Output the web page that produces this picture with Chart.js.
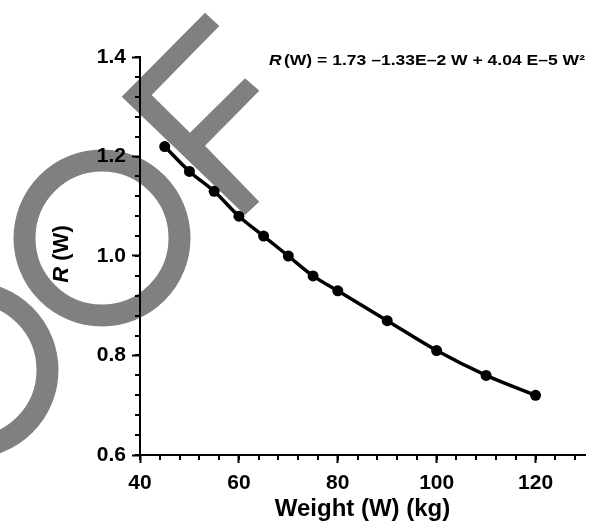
<!DOCTYPE html>
<html>
<head>
<meta charset="utf-8">
<script src="https://cdn.jsdelivr.net/npm/chart.js@4/dist/chart.umd.min.js"></script>
<style>
body { margin: 0; background: #fff; }
</style>
</head>
<body>
<canvas id="chart" width="593" height="524"></canvas>
<script>
// values
let weights = [45, 50, 55, 60, 65, 70, 75, 80, 90, 100, 110, 120];
let ratios = [1.22, 1.17, 1.13, 1.08, 1.04, 1.00, 0.96, 0.93, 0.87, 0.81, 0.76, 0.72];
let x_ticks = [40, 60, 80, 100, 120];
let y_ticks = [0.6, 0.8, 1.0, 1.2, 1.4];
let x_title = 'Weight (W) (kg)';
let y_title_var = 'R';
let y_title_rest = ' (W)';
let eq_var = 'R';
let eq_rest = '(W) = 1.73 \u20131.33E\u20132 W + 4.04 E\u20135 W\u00b2';

let font_family = '"Liberation Sans", Arial, Helvetica, sans-serif';
Chart.defaults.font.family = font_family;
Chart.defaults.font.weight = 'bold';
Chart.defaults.color = '#000';

// gray "PROOF" stamp behind the plot
let stamp_plugin = {
    id: 'stamp',
    beforeDraw: function(chart) {
        let ctx = chart.ctx;
        ctx.save();
        ctx.fillStyle = '#808080';
        ctx.strokeStyle = '#808080';
        ctx.lineWidth = 22;
        ctx.beginPath();
        ctx.arc(102, 238, 77.5, 0, Math.PI * 2);
        ctx.stroke();
        ctx.beginPath();
        ctx.arc(-30, 370, 77.5, 0, Math.PI * 2);
        ctx.stroke();
        let f_shape = [[121.7, 96.7], [205, 12.7], [219.3, 26], [151.7, 95], [190, 132.7],
            [245, 78.3], [259.3, 90.7], [205, 145.7], [259.3, 201.7], [245, 215]];
        ctx.beginPath();
        f_shape.forEach(function(p, i) {
            if (i == 0) ctx.moveTo(p[0], p[1]); else ctx.lineTo(p[0], p[1]);
        });
        ctx.closePath();
        ctx.fill();
        ctx.restore();
    }
};

// short minor ticks, y title and the fitted equation
let extras_plugin = {
    id: 'extras',
    afterDraw: function(chart) {
        let ctx = chart.ctx;
        let xs = chart.scales.x;
        let ys = chart.scales.y;
        ctx.save();
        ctx.strokeStyle = '#000';
        ctx.lineWidth = 2;
        ctx.beginPath();
        for (let v = 40; v < 130; v += 4) {
            let px = Math.round(xs.getPixelForValue(v));
            ctx.moveTo(px, ys.bottom);
            ctx.lineTo(px, ys.bottom + 5);
        }
        for (let i = 0; i <= 20; i++) {
            let py = Math.round(ys.getPixelForValue(0.6 + i * 0.04));
            ctx.moveTo(xs.left, py);
            ctx.lineTo(xs.left - 5, py);
        }
        ctx.stroke();

        // y title, rotated
        ctx.fillStyle = '#000';
        ctx.textBaseline = 'middle';
        ctx.textAlign = 'left';
        let var_font = 'italic bold 22px ' + font_family;
        let rest_font = 'bold 22px ' + font_family;
        ctx.font = var_font;
        let w1 = ctx.measureText(y_title_var).width;
        ctx.font = rest_font;
        let w2 = ctx.measureText(y_title_rest).width;
        ctx.translate(62, (ys.top + ys.bottom) / 2 - 2);
        ctx.rotate(-Math.PI / 2);
        ctx.font = var_font;
        ctx.fillText(y_title_var, -(w1 + w2) / 2, 0);
        ctx.font = rest_font;
        ctx.fillText(y_title_rest, -(w1 + w2) / 2 + w1, 0);
        ctx.setTransform(1, 0, 0, 1, 0, 0);

        // equation, a bit wide like the original
        ctx.font = 'italic bold 15px ' + font_family;
        let ev = ctx.measureText(eq_var).width + 2;
        ctx.font = 'bold 15px ' + font_family;
        let er = ctx.measureText(eq_rest).width;
        let sx = 316 / (ev + er);
        ctx.translate(269, 61);
        ctx.scale(sx, 1);
        ctx.font = 'italic bold 15px ' + font_family;
        ctx.fillText(eq_var, 0, 0);
        ctx.font = 'bold 15px ' + font_family;
        ctx.fillText(eq_rest, ev, 0);
        ctx.restore();
    }
};

let ctx = document.getElementById('chart').getContext('2d');
let chart = new Chart(ctx, {
    type: 'line',
    data: {
        datasets: [{
            data: weights.map((w, i) => ({x: w, y: ratios[i]})),
            borderColor: '#000',
            backgroundColor: '#000',
            borderWidth: 3.5,
            pointRadius: 5.5,
            pointBackgroundColor: '#000',
            pointBorderWidth: 0,
            tension: 0.4,
            cubicInterpolationMode: 'monotone',
            clip: false,
        }],
    },
    options: {
        responsive: false,
        animation: false,
        layout: {
            padding: {top: 57, right: 8, left: 0, bottom: 0}
        },
        plugins: {
            legend: {display: false},
            tooltip: {enabled: false},
        },
        scales: {
            x: {
                type: 'linear',
                min: 40,
                max: 130,
                afterFit: function(scale) { scale.height = 69; },
                afterBuildTicks: function(scale) {
                    scale.ticks = x_ticks.map(v => ({value: v}));
                },
                ticks: {
                    padding: 8,
                    font: {size: 21, weight: 'bold'},
                    color: '#000',
                },
                grid: {
                    drawOnChartArea: false,
                    drawTicks: true,
                    tickLength: 8,
                    tickWidth: 2,
                    tickColor: '#000',
                },
                border: {display: true, color: '#000', width: 2},
                title: {
                    display: true,
                    text: x_title,
                    color: '#000',
                    font: {size: 24, weight: 'bold'},
                    padding: {top: 0, bottom: 0},
                },
            },
            y: {
                min: 0.6,
                max: 1.4,
                afterFit: function(scale) { scale.width = 140; },
                afterBuildTicks: function(scale) {
                    scale.ticks = y_ticks.map(v => ({value: v}));
                },
                ticks: {
                    padding: 6,
                    font: {size: 21, weight: 'bold'},
                    color: '#000',
                    callback: (v) => v.toFixed(1),
                },
                grid: {
                    drawOnChartArea: false,
                    drawTicks: true,
                    tickLength: 8,
                    tickWidth: 2,
                    tickColor: '#000',
                },
                border: {display: true, color: '#000', width: 2},
            },
        },
    },
    plugins: [stamp_plugin, extras_plugin],
});
</script>
</body>
</html>
